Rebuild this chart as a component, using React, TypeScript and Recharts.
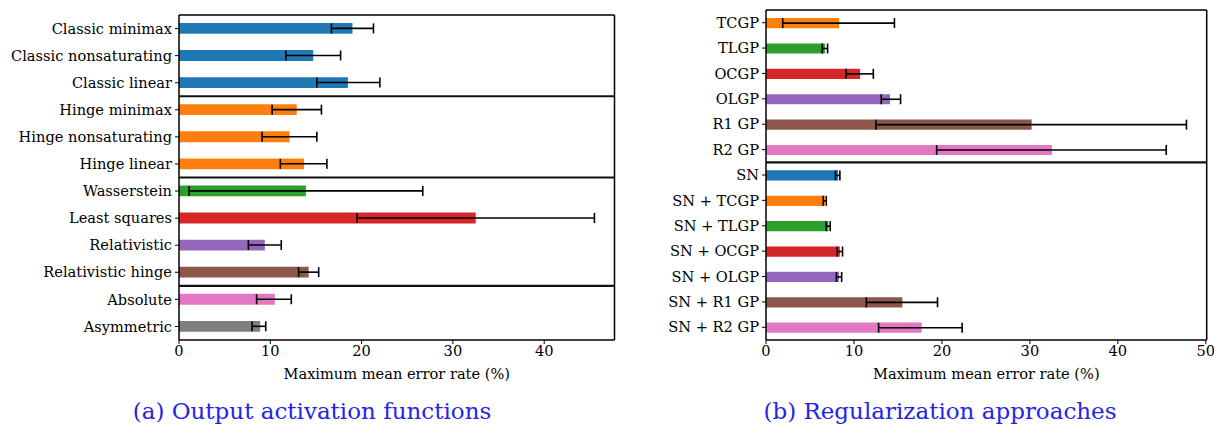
import React from 'react';
import { BarChart, Bar, XAxis, YAxis, ErrorBar, Cell, ReferenceLine } from 'recharts';

const BLUE = '#1f77b4';
const ORANGE = '#ff7f0e';
const GREEN = '#2ca02c';
const RED = '#d62728';
const PURPLE = '#9467bd';
const BROWN = '#8c564b';
const PINK = '#e377c2';
const GRAY = '#7f7f7f';

// (a) Output activation functions
const leftNames = [
  'Classic minimax', 'Classic nonsaturating', 'Classic linear',
  'Hinge minimax', 'Hinge nonsaturating', 'Hinge linear',
  'Wasserstein', 'Least squares', 'Relativistic', 'Relativistic hinge',
  'Absolute', 'Asymmetric',
];
const leftMeans = [19.0, 14.7, 18.5, 12.9, 12.1, 13.7, 13.9, 32.5, 9.4, 14.2, 10.5, 8.9];
const leftLow = [16.7, 11.7, 15.1, 10.2, 9.1, 11.1, 1.1, 19.5, 7.6, 13.1, 8.5, 8.0];
const leftHigh = [21.3, 17.7, 22.0, 15.6, 15.1, 16.2, 26.7, 45.5, 11.2, 15.3, 12.3, 9.5];
const leftColors = [BLUE, BLUE, BLUE, ORANGE, ORANGE, ORANGE, GREEN, RED, PURPLE, BROWN, PINK, GRAY];
const leftGroupStarts = ['Hinge minimax', 'Wasserstein', 'Absolute'];
const leftTicks = [0, 10, 20, 30, 40];
const leftMax = 47.7;

// (b) Regularization approaches
const rightNames = [
  'TCGP', 'TLGP', 'OCGP', 'OLGP', 'R1 GP', 'R2 GP',
  'SN', 'SN + TCGP', 'SN + TLGP', 'SN + OCGP', 'SN + OLGP', 'SN + R1 GP', 'SN + R2 GP',
];
const rightMeans = [8.3, 6.7, 10.7, 14.1, 30.2, 32.5, 8.2, 6.7, 7.1, 8.4, 8.3, 15.5, 17.7];
const rightLow = [1.9, 6.4, 9.1, 13.1, 12.5, 19.4, 7.9, 6.5, 6.85, 8.1, 8.0, 11.4, 12.8];
const rightHigh = [14.6, 7.0, 12.2, 15.3, 47.8, 45.5, 8.4, 6.85, 7.3, 8.7, 8.6, 19.5, 22.3];
const rightColors = [ORANGE, GREEN, RED, PURPLE, BROWN, PINK, BLUE, ORANGE, GREEN, RED, PURPLE, BROWN, PINK];
const rightGroupStarts = ['SN'];
const rightTicks = [0, 10, 20, 30, 40, 50];
const rightMax = 50.1;

const AXIS_LABEL = 'Maximum mean error rate (%)';
const FONT = '"DejaVu Serif", serif';
const FS = 14.6;

function buildRows(names: string[], means: number[], lo: number[], hi: number[]) {
  return names.map((name, i) => ({
    name,
    value: means[i],
    err: [means[i] - lo[i], hi[i] - means[i]],
  }));
}

const leftData = buildRows(leftNames, leftMeans, leftLow, leftHigh);
const rightData = buildRows(rightNames, rightMeans, rightLow, rightHigh);

const tickStyle = { fill: '#000', fontSize: FS, fontFamily: FONT };

function Panel(props: {
  data: any[];
  colors: string[];
  groupStarts: string[];
  ticks: number[];
  xMax: number;
  width: number;
  yAxisWidth: number;
  marginTop: number;
  marginRight: number;
  barSize: number;
}) {
  const { data, colors, groupStarts, ticks, xMax, width, yAxisWidth, marginTop, marginRight, barSize } = props;
  return (
    <BarChart
      layout="vertical"
      width={width}
      height={400}
      data={data}
      margin={{ top: marginTop, right: marginRight, left: 0, bottom: 0 }}
      barCategoryGap={0}
      style={{ fontFamily: FONT }}
    >
      <XAxis
        type="number"
        domain={[0, xMax]}
        allowDataOverflow
        ticks={ticks}
        height={60}
        tick={tickStyle}
        tickSize={4}
        tickMargin={2}
        axisLine={{ stroke: '#000', strokeWidth: 1.5 }}
        tickLine={{ stroke: '#000', strokeWidth: 1 }}
        label={{ value: AXIS_LABEL, position: 'insideBottom', offset: 21, fill: '#000', fontSize: FS, fontFamily: FONT }}
      />
      <YAxis
        type="category"
        dataKey="name"
        width={yAxisWidth}
        interval={0}
        tick={tickStyle}
        tickSize={4}
        tickMargin={3}
        axisLine={{ stroke: '#000', strokeWidth: 1.5 }}
        tickLine={{ stroke: '#000', strokeWidth: 1 }}
      />
      <Bar dataKey="value" barSize={barSize} isAnimationActive={false}>
        {data.map((d, i) => (
          <Cell key={d.name} fill={colors[i]} />
        ))}
        <ErrorBar dataKey="err" direction="x" width={5} stroke="#000" strokeWidth={1.6} isAnimationActive={false} />
      </Bar>
      <ReferenceLine y={data[0].name} position="start" stroke="#000" strokeWidth={1.5} />
      <ReferenceLine x={xMax} stroke="#000" strokeWidth={1.5} />
      {groupStarts.map((g) => (
        <ReferenceLine key={g} y={g} position="start" stroke="#111" strokeWidth={2.2} />
      ))}
    </BarChart>
  );
}

const captionStyle: React.CSSProperties = {
  position: 'absolute',
  top: 398,
  fontFamily: '"DejaVu Serif", serif',
  fontSize: 23,
  lineHeight: '27px',
  color: '#2424e6',
  textAlign: 'center',
  whiteSpace: 'nowrap',
};

export default function App() {
  return (
    <div style={{ position: 'absolute', left: 0, top: 0, width: 1214, height: 426, background: '#fff', overflow: 'hidden' }}>
      <div style={{ position: 'absolute', left: 0, top: 0 }}>
        <Panel
          data={leftData}
          colors={leftColors}
          groupStarts={leftGroupStarts}
          ticks={leftTicks}
          xMax={leftMax}
          width={620}
          yAxisWidth={179}
          marginTop={15}
          marginRight={5.5}
          barSize={10.8}
        />
      </div>
      <div style={{ position: 'absolute', left: 620, top: 0 }}>
        <Panel
          data={rightData}
          colors={rightColors}
          groupStarts={rightGroupStarts}
          ticks={rightTicks}
          xMax={rightMax}
          width={594}
          yAxisWidth={146}
          marginTop={10}
          marginRight={7.3}
          barSize={10.2}
        />
      </div>
      <div style={{ ...captionStyle, left: 112, width: 400 }}>(a) Output activation functions</div>
      <div style={{ ...captionStyle, left: 740, width: 400 }}>(b) Regularization approaches</div>
    </div>
  );
}
